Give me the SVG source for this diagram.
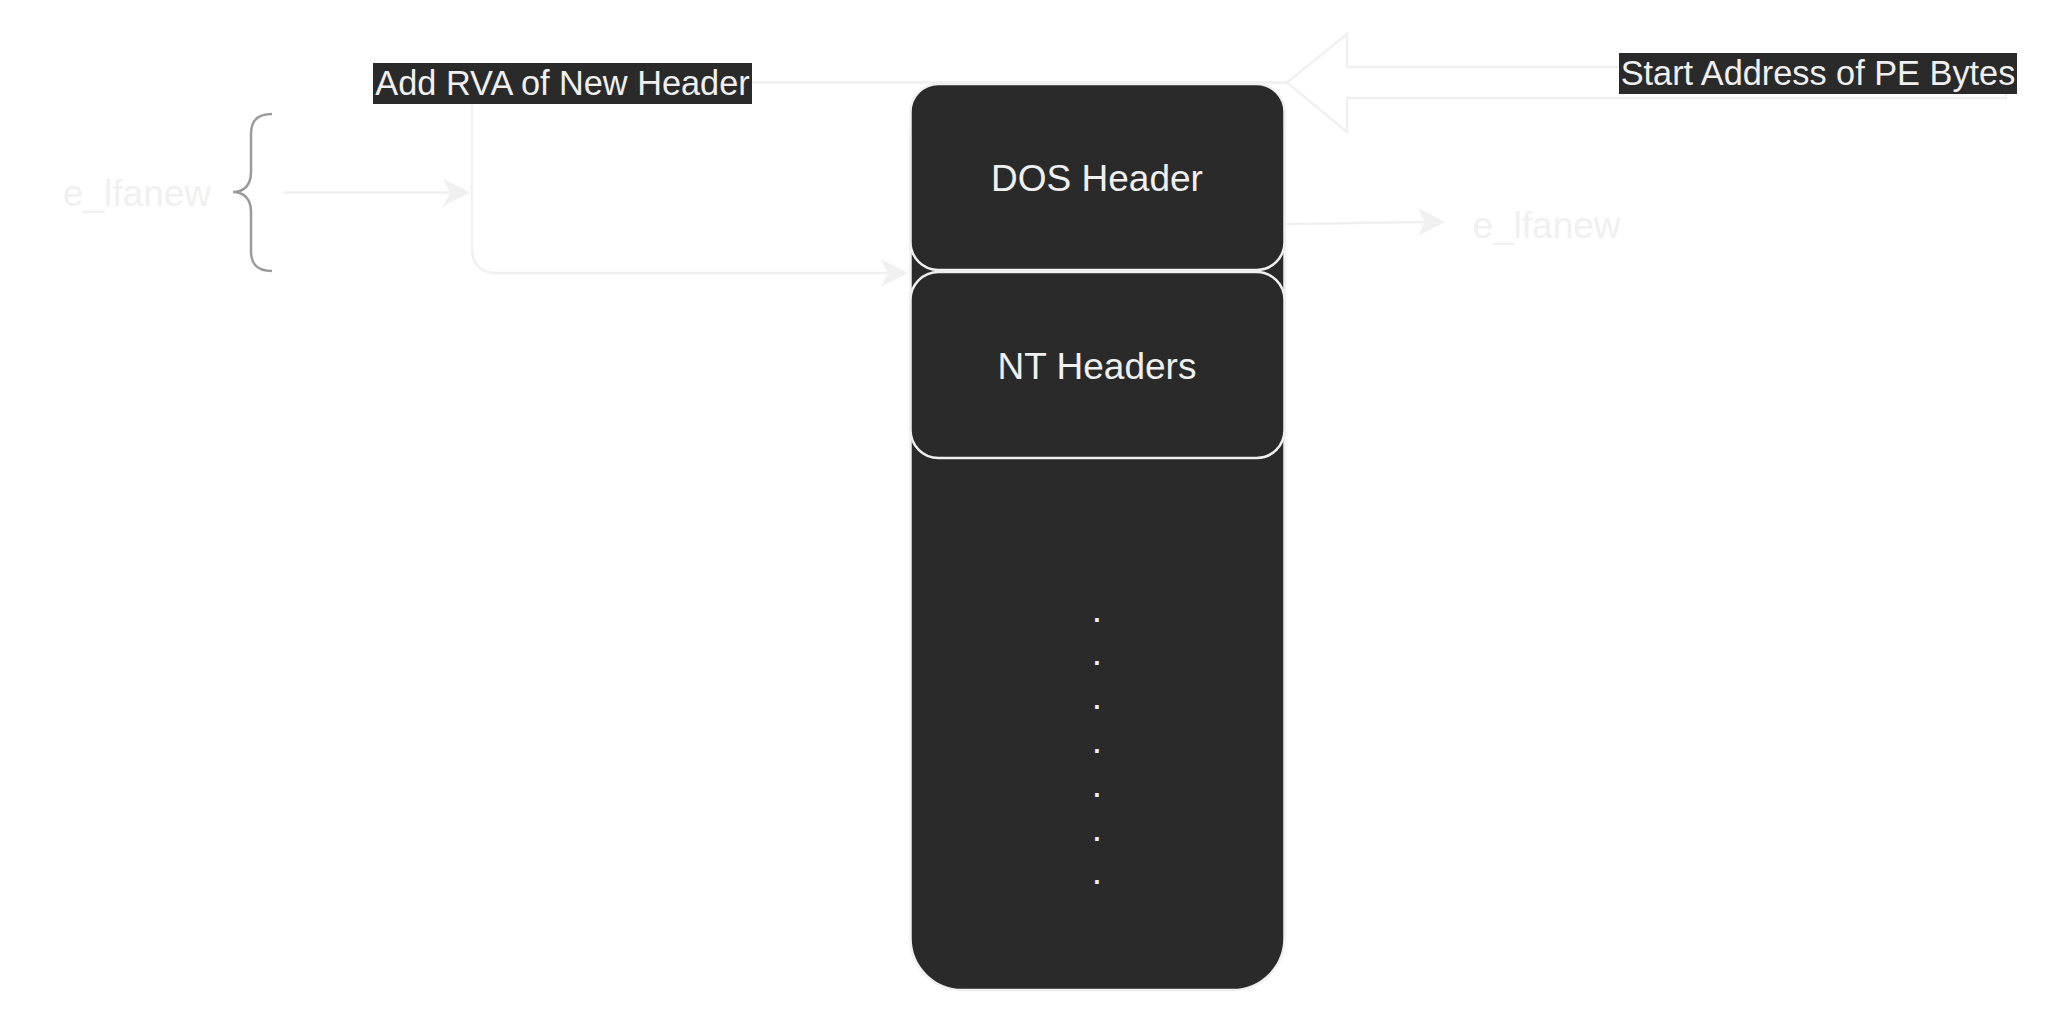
<svg xmlns="http://www.w3.org/2000/svg" width="2048" height="1024" viewBox="0 0 2048 1024">
<style>
.ln{fill:none;stroke:#f0f0f0;stroke-width:2.5;}
.ah{fill:#f0f0f0;stroke:none;}
.box{fill:#2a2a2a;stroke:#f0f0f0;stroke-width:2.5;}
.t{font-family:"Liberation Sans",Arial,Helvetica,sans-serif;fill:#f0f0f0;text-anchor:middle;}
.big{font-size:37px;}
.lbl{font-size:34.3px;}
.lblbg{fill:#2a2a2a;}
</style>
<rect width="2048" height="1024" fill="#ffffff"/>
<g id="connectors">
  <polygon class="ln" points="1287,82.5 1347,34 1347,67 2006,67 2006,98 1347,98 1347,132"/>
  <path class="ln" d="M1287,82.5 L472,82.5 L472,248 Q472,273 497,273 L890,273"/>
  <path class="ah" d="M908,273 L881,259 L888,273 L881,287 Z"/>
  <path class="ln" d="M283,192.5 L452,192.5"/>
  <path class="ah" d="M470,192.5 L443,178.5 L450,192.5 L443,206.5 Z"/>
  <path class="ln" d="M1285,224 C1330,224 1380,222 1427,222"/>
  <path class="ah" d="M1445,222 L1418,208 L1425,222 L1418,236 Z"/>
  <rect class="lblbg" x="373" y="63" width="379" height="41"/>
  <text class="t lbl" x="562.5" y="95">Add RVA of New Header</text>
  <rect class="lblbg" x="1619" y="53" width="398" height="41"/>
  <text class="t lbl" x="1818" y="85">Start Address of PE Bytes</text>
</g>
<g id="pe-container">
  <rect class="box" x="910.5" y="84" width="374" height="906" rx="52" ry="52"/>
  <text class="t big" x="1097" y="621.5">.</text>
  <text class="t big" x="1097" y="665.3">.</text>
  <text class="t big" x="1097" y="709.1">.</text>
  <text class="t big" x="1097" y="752.9">.</text>
  <text class="t big" x="1097" y="796.7">.</text>
  <text class="t big" x="1097" y="840.5">.</text>
  <text class="t big" x="1097" y="884.3">.</text>
</g>
<g id="dos-header">
  <rect class="box" x="910.5" y="84" width="374" height="186" rx="28" ry="28"/>
  <text class="t big" x="1097" y="190.5">DOS Header</text>
</g>
<g id="nt-headers">
  <rect class="box" x="910.5" y="272" width="374" height="186" rx="28" ry="28"/>
  <text class="t big" x="1097" y="378.5">NT Headers</text>
</g>
<g id="brace">
  <path d="M272,114 C258,114 251,120 251,134 L251,172 C251,185 244,192 233,192 C244,192 251,199 251,212 L251,251 C251,265 258,271 272,271" fill="none" stroke="#9a9a9a" stroke-width="2.5"/>
</g>
<g id="e-lfanew-left">
  <text class="t big" x="137" y="206">e_lfanew</text>
</g>
<g id="e-lfanew-right">
  <text class="t big" x="1546.5" y="238">e_lfanew</text>
</g>
</svg>
